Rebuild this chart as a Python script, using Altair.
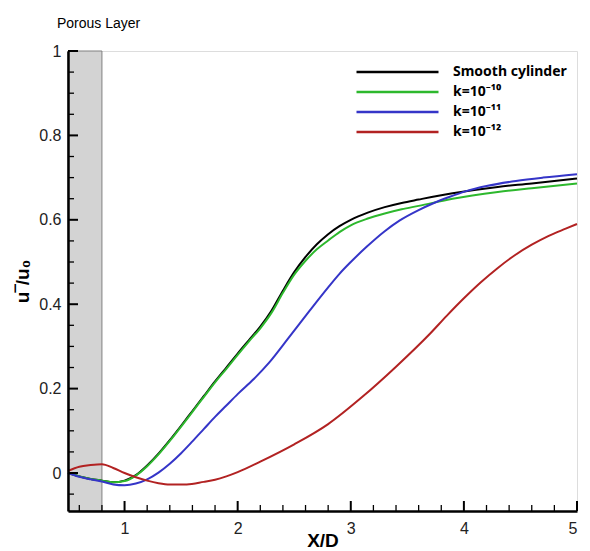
import altair as alt
import pandas as pd

series_names = ["Smooth cylinder", "k=10⁻¹⁰", "k=10⁻¹¹", "k=10⁻¹²"]
series_colors = ["#000000", "#2db82d", "#3535c8", "#b22222"]

smooth_x = [0.5, 0.6, 0.7, 0.8, 0.9, 1.0, 1.1, 1.2, 1.3, 1.4, 1.5, 1.6, 1.7, 1.8, 1.9, 2.0, 2.1, 2.2, 2.3,
            2.4, 2.5, 2.6, 2.7, 2.8, 2.9, 3.0, 3.15, 3.3, 3.45, 3.6, 3.9, 4.3, 4.6, 5.0]
smooth_y = [0.0, -0.008, -0.014, -0.018, -0.022, -0.018, -0.005, 0.018, 0.046, 0.078, 0.112, 0.147, 0.182,
            0.217, 0.25, 0.283, 0.315, 0.347, 0.385, 0.432, 0.476, 0.512, 0.542, 0.566, 0.585, 0.6, 0.617,
            0.63, 0.64, 0.648, 0.663, 0.678, 0.686, 0.698]

k10_x = [0.5, 0.6, 0.7, 0.8, 0.9, 1.0, 1.1, 1.2, 1.3, 1.4, 1.5, 1.6, 1.7, 1.8, 1.9, 2.0, 2.1, 2.2, 2.3,
         2.4, 2.5, 2.6, 2.7, 2.8, 2.9, 3.0, 3.15, 3.3, 3.45, 3.6, 3.9, 4.3, 4.6, 5.0]
k10_y = [0.0, -0.008, -0.014, -0.018, -0.022, -0.019, -0.006, 0.016, 0.044, 0.076, 0.11, 0.145, 0.18,
         0.215, 0.247, 0.28, 0.312, 0.343, 0.38, 0.427, 0.47, 0.503, 0.53, 0.551, 0.571, 0.587, 0.603,
         0.615, 0.625, 0.633, 0.65, 0.666, 0.675, 0.686]

k11_x = [0.5, 0.6, 0.7, 0.8, 0.9, 1.0, 1.1, 1.2, 1.3, 1.4, 1.5, 1.6, 1.7, 1.8, 1.9, 2.0, 2.14, 2.28,
         2.45, 2.64, 2.8, 2.9, 3.0, 3.14, 3.3, 3.43, 3.6, 3.72, 3.87, 4.02, 4.2, 4.46, 4.7, 5.0]
k11_y = [0.0, -0.009, -0.015, -0.02, -0.027, -0.029, -0.025, -0.015, 0.001, 0.022, 0.047, 0.075, 0.104,
         0.133, 0.16, 0.187, 0.222, 0.262, 0.32, 0.386, 0.44, 0.472, 0.5, 0.536, 0.573, 0.598, 0.623, 0.638,
         0.654, 0.668, 0.68, 0.692, 0.7, 0.708]

k12_x = [0.5, 0.6, 0.7, 0.8, 0.9, 1.0, 1.1, 1.2, 1.3, 1.4, 1.55, 1.7, 1.8, 1.9, 2.0, 2.2, 2.5, 2.8, 3.1,
         3.4, 3.7, 3.85, 4.0, 4.15, 4.3, 4.45, 4.6, 4.75, 4.9, 5.0]
k12_y = [0.005, 0.015, 0.019, 0.021, 0.012, 0.0, -0.01, -0.018, -0.024, -0.027, -0.027, -0.021, -0.016,
         -0.008, 0.002, 0.027, 0.068, 0.116, 0.18, 0.252, 0.33, 0.373, 0.414, 0.452, 0.486, 0.516, 0.541,
         0.562, 0.579, 0.59]

x_major = [1, 2, 3, 4, 5]
x_minor = [0.6, 0.8, 1.2, 1.4, 1.6, 1.8, 2.2, 2.4, 2.6, 2.8, 3.2, 3.4, 3.6, 3.8, 4.2, 4.4, 4.6, 4.8]
y_major = [0, 0.2, 0.4, 0.6, 0.8, 1.0]
y_minor = [-0.05, 0.05, 0.1, 0.15, 0.25, 0.3, 0.35, 0.45, 0.5, 0.55, 0.65, 0.7, 0.75, 0.85, 0.9, 0.95]
porous_x = [0.5, 0.8]
x_domain = [0.5, 5]
y_domain = [-0.09, 1]

rows = []
for name, xs_, ys_ in zip(series_names, [smooth_x, k10_x, k11_x, k12_x], [smooth_y, k10_y, k11_y, k12_y]):
    for i, (a, b) in enumerate(zip(xs_, ys_)):
        rows.append({"series": name, "x": a, "y": b, "i": i})
df = pd.DataFrame(rows)

FONT = "Liberation Sans"
xs = alt.Scale(domain=x_domain, nice=False, zero=False)
ys = alt.Scale(domain=y_domain, nice=False, zero=False)
ax_x = alt.Axis(title="X/D", values=x_major, format="~g", ticks=False, tickSize=0, grid=False,
                domainColor="black", domainWidth=2.5, labelFont=FONT, labelFontSize=16,
                labelColor="#222222", labelPadding=9, titleFont=FONT, titleFontSize=19,
                titleFontWeight="bold", titleColor="black", titlePadding=-5, zindex=1)
ax_y = alt.Axis(title="u‾/u₀", values=y_major, format="~g", ticks=False, tickSize=0, grid=False,
                domainColor="black", domainWidth=2.5, labelFont=FONT, labelFontSize=16,
                labelColor="#222222", labelPadding=7, titleFont=FONT, titleFontSize=19,
                titleFontWeight="bold", titleColor="black", titlePadding=6, zindex=1)

rect = alt.Chart(pd.DataFrame({"x0": [porous_x[0]], "x1": [porous_x[1]],
                               "y0": [y_domain[0]], "y1": [y_domain[1]]})).mark_rect(
    fill="#d3d3d3", stroke="#808080", strokeWidth=1
).encode(
    x=alt.X("x0:Q", scale=xs, axis=ax_x), x2="x1",
    y=alt.Y("y0:Q", scale=ys, axis=ax_y), y2="y1",
)

lines = alt.Chart(df).mark_line(strokeWidth=2, interpolate="monotone").encode(
    x=alt.X("x:Q", scale=xs, axis=ax_x),
    y=alt.Y("y:Q", scale=ys, axis=ax_y),
    order="i:Q",
    color=alt.Color("series:N", scale=alt.Scale(domain=series_names, range=series_colors),
                    legend=alt.Legend(title=None, orient="none", legendX=287, legendY=11,
                                      symbolType="stroke", symbolSize=6724, symbolStrokeWidth=2.5,
                                      clipHeight=20, rowPadding=0, labelOffset=13, labelFontSize=14,
                                      labelFontWeight="bold", labelFont="Noto Sans", labelColor="black",
                                      padding=0)),
)

xt_major = alt.Chart(pd.DataFrame({"v": x_major})).mark_rule(color="black", strokeWidth=2).encode(
    x=alt.X("v:Q", scale=xs, axis=ax_x), y=alt.value(460), y2=alt.value(450))
xt_minor = alt.Chart(pd.DataFrame({"v": x_minor})).mark_rule(color="black", strokeWidth=1.3).encode(
    x=alt.X("v:Q", scale=xs, axis=ax_x), y=alt.value(460), y2=alt.value(454))
yt_major = alt.Chart(pd.DataFrame({"v": y_major})).mark_rule(color="black", strokeWidth=2).encode(
    y=alt.Y("v:Q", scale=ys, axis=ax_y), x=alt.value(0), x2=alt.value(10))
yt_minor = alt.Chart(pd.DataFrame({"v": y_minor})).mark_rule(color="black", strokeWidth=1.3).encode(
    y=alt.Y("v:Q", scale=ys, axis=ax_y), x=alt.value(0), x2=alt.value(6))

chart = alt.layer(rect, lines, xt_major, xt_minor, yt_major, yt_minor).properties(
    width=509, height=460,
    padding={"left": 68, "top": 51, "right": 13, "bottom": 40},
    autosize=alt.AutoSizeParams(type="none"),
    title=alt.TitleParams("Porous Layer", anchor="start", frame="group", dx=-11, offset=12,
                          fontSize=14, fontWeight="normal", font=FONT, color="black"),
).configure_view(stroke=None).configure(background="white")

chart.save("out.html", embed_options={"renderer": "svg", "actions": False})
